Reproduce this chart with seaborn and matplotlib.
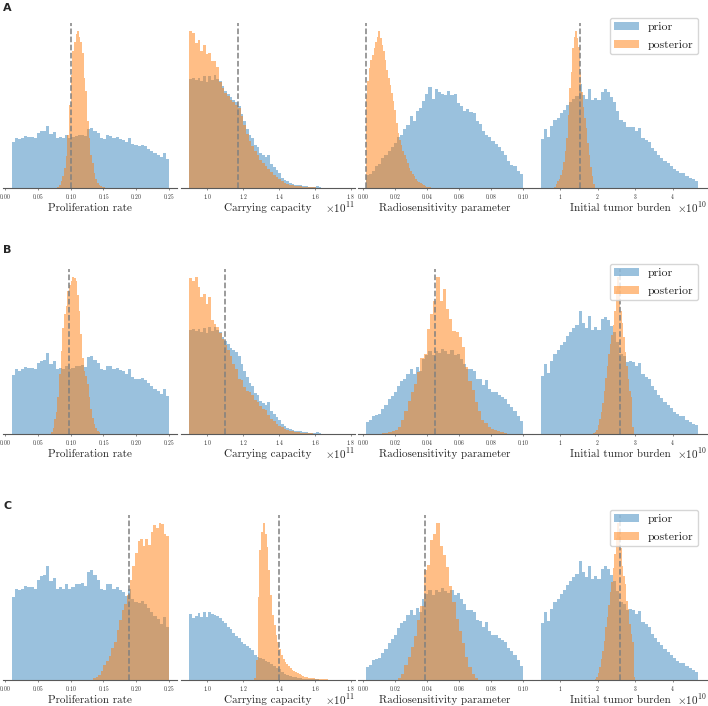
import matplotlib
matplotlib.use("Agg")
import matplotlib.pyplot as plt
import numpy as np
import pandas as pd
import seaborn as sns

# bin heights (arbitrary units, same scale within a panel)
# proliferation rate
PROLIF_PRIOR_RANGE = (0.010, 0.250)
PROLIF_PRIOR = [137, 150, 147, 150, 155, 152, 153, 150, 165, 170,
                172, 187, 162, 168, 150, 152, 150, 158, 150, 153,
                157, 158, 160, 155, 178, 180, 172, 165, 150, 148,
                158, 157, 150, 152, 148, 145, 138, 150, 133, 128,
                127, 130, 125, 118, 112, 105, 100, 92, 104, 87]
PROLIF_POST_A_RANGE = (0.080, 0.155)
PROLIF_POST_A = [3, 10, 20, 35, 60, 95, 160, 250, 340, 410,
                 440, 462, 472, 455, 440, 405, 330, 290, 200, 150,
                 100, 75, 45, 28, 15, 9, 5, 3, 2, 1]
PROLIF_POST_B_RANGE = (0.070, 0.145)
PROLIF_POST_B = [4, 15, 35, 50, 85, 138, 192, 246, 277, 296,
                 331, 346, 354, 364, 362, 355, 323, 285, 231, 177,
                 146, 135, 115, 85, 58, 37, 23, 14, 8, 4]
PROLIF_POST_C_RANGE = (0.134, 0.250)
PROLIF_POST_C = [3, 5, 8, 15, 24, 32, 40, 52, 63, 82,
                 98, 115, 125, 140, 165, 187, 208, 228, 232, 220,
                 232, 222, 243, 255, 250, 258, 256, 240, 236]
PROLIF_TRUE = [0.100, 0.097, 0.189]

# carrying capacity
CAP_RANGE = (0.90e11, 1.65e11)
CAP_PRIOR_AB = [327, 330, 325, 330, 322, 335, 318, 337, 325, 338,
                328, 320, 305, 292, 282, 272, 265, 258, 245, 222,
                200, 178, 160, 150, 128, 122, 104, 98, 92, 100,
                72, 64, 54, 45, 30, 24, 20, 16, 13, 10,
                9, 8, 6, 5, 4, 3, 3, 6, 2, 1]
CAP_POST_A = [472, 465, 435, 445, 412, 430, 402, 405, 380, 382,
              362, 318, 300, 285, 275, 265, 258, 250, 240, 215,
              190, 162, 142, 125, 110, 98, 85, 75, 65, 57,
              48, 40, 33, 26, 20, 16, 13, 10, 8, 7,
              6, 5, 4, 3, 3, 2, 2, 1, 1, 1]
CAP_POST_B = [491, 481, 495, 463, 432, 442, 410, 432, 358, 348,
              337, 318, 298, 280, 264, 247, 220, 206, 174, 169,
              147, 136, 132, 122, 106, 101, 89, 80, 75, 59,
              47, 40, 32, 26, 21, 17, 14, 11, 9, 7,
              5, 4, 3, 3, 2, 2, 1, 1, 1, 0]
CAP_PRIOR_C = [197, 187, 192, 202, 190, 205, 189, 204, 197, 196,
               192, 185, 178, 170, 160, 152, 142, 132, 125, 115,
               109, 102, 97, 90, 75, 70, 66, 62, 57, 55,
               47, 42, 36, 32, 24, 19, 15, 12, 10, 8,
               7, 5, 4, 4, 3, 3, 2, 2, 1, 1]
CAP_POST_C_RANGE = (1.26e11, 1.70e11)
CAP_POST_C = [5, 60, 250, 390, 445, 472, 440, 400, 330, 255,
              195, 165, 135, 115, 92, 75, 63, 55, 48, 42,
              36, 31, 27, 24, 20, 17, 14, 12, 10, 8,
              7, 6, 5, 5, 4, 3, 3, 3, 2, 2,
              2, 1, 1, 1]
CAP_TRUE = [1.172e11, 1.100e11, 1.398e11]

# radiosensitivity
RADIO_RANGE = (0.0017, 0.100)
RADIO_PRIOR_A = [40, 42, 52, 67, 72, 90, 100, 112, 122, 135,
                 152, 158, 178, 190, 215, 202, 232, 240, 262, 282,
                 302, 268, 296, 288, 282, 278, 292, 280, 282, 254,
                 245, 232, 237, 227, 224, 200, 192, 170, 160, 152,
                 142, 132, 124, 112, 98, 82, 70, 66, 52, 42]
RADIO_POST_A_RANGE = (0.0017, 0.0437)
RADIO_POST_A = [280, 320, 360, 385, 400, 420, 440, 455, 472, 450,
                430, 410, 385, 355, 330, 310, 285, 262, 235, 195,
                165, 145, 128, 112, 98, 88, 75, 60, 50, 42,
                35, 28, 22, 18, 14, 11, 9, 6, 4, 3,
                2, 1]
RADIO_PRIOR_BC = [36, 41, 55, 58, 60, 75, 86, 104, 114, 125,
                  145, 158, 165, 180, 196, 181, 200, 188, 225, 238,
                  250, 236, 250, 244, 256, 248, 241, 251, 236, 241,
                  226, 211, 196, 196, 190, 166, 165, 148, 162, 136,
                  126, 125, 116, 111, 106, 90, 80, 70, 55, 40]
RADIO_POST_B_RANGE = (0.012, 0.090)
RADIO_POST_B = [2, 3, 5, 8, 12, 20, 42, 70, 100, 125,
                150, 185, 228, 241, 316, 360, 400, 471, 400, 435,
                376, 346, 310, 306, 290, 260, 200, 160, 131, 96,
                68, 42, 32, 22, 16, 12, 8, 5, 3]
RADIO_POST_C_RANGE = (0.022, 0.072)
RADIO_POST_C = [6, 18, 42, 65, 93, 122, 167, 206, 305, 321,
                389, 405, 437, 374, 349, 315, 261, 218, 171, 136,
                102, 65, 37, 16, 6]
RADIO_TRUE = [0.0017, 0.0454, 0.0389]

# initial tumor burden
BURDEN_RANGE = (0.48e10, 4.68e10)
BURDEN_PRIOR = [171, 205, 178, 215, 236, 245, 260, 271, 288, 300,
                311, 321, 361, 325, 312, 346, 306, 314, 306, 336,
                344, 335, 318, 300, 270, 236, 230, 211, 214, 211,
                200, 208, 176, 168, 160, 140, 128, 114, 106, 94,
                86, 76, 66, 58, 52, 52, 42, 36, 30, 25]
BURDEN_POST_A_RANGE = (0.84e10, 1.92e10)
BURDEN_POST_A = [3, 14, 23, 31, 46, 64, 90, 128, 174, 255,
                 348, 406, 487, 528, 548, 524, 493, 406, 336, 284,
                 244, 209, 157, 116, 72, 41, 14]
BURDEN_POST_B_RANGE = (1.88e10, 2.96e10)
BURDEN_POST_B = [3, 6, 12, 25, 45, 65, 90, 125, 165, 200,
                 235, 265, 290, 320, 360, 420, 461, 430, 360, 325,
                 285, 240, 200, 160, 125, 110, 20]
BURDEN_POST_C_RANGE = (1.92e10, 3.00e10)
BURDEN_POST_C = [3, 8, 20, 40, 62, 88, 118, 160, 190, 228,
                 265, 295, 340, 380, 430, 475, 440, 400, 345, 315,
                 290, 240, 215, 170, 140, 115, 8]
BURDEN_TRUE = [1.53e10, 2.59e10, 2.59e10]

ROW_LABELS = ["A", "B", "C"]
XLABELS = ["Proliferation rate", "Carrying capacity", "Radiosensitivity parameter", "Initial tumor burden"]
OFFSETS = [None, r"$\times10^{11}$", None, r"$\times10^{10}$"]

sns.set_style("white")
plt.rcParams["font.family"] = "serif"
plt.rcParams["font.serif"] = ["cmr10"]
plt.rcParams["mathtext.fontset"] = "cm"
plt.rcParams["axes.unicode_minus"] = False
plt.rcParams["axes.formatter.use_mathtext"] = True

PRIOR_COLOR = "#1f77b4"
POST_COLOR = "#ff7f0e"


def _hist(ax, heights, value_range, color, alpha, label):
    edges = np.linspace(value_range[0], value_range[1], len(heights) + 1)
    df = pd.DataFrame({"value": (edges[:-1] + edges[1:]) / 2, "height": heights})
    sns.histplot(data=df, x="value", weights="height", bins=len(heights), binrange=value_range,
                 element="step", fill=True, color=color, alpha=alpha, linewidth=0,
                 label=label, ax=ax)


panels = [
    [(PROLIF_PRIOR, PROLIF_PRIOR_RANGE, PROLIF_POST_A, PROLIF_POST_A_RANGE, PROLIF_TRUE[0]),
     (CAP_PRIOR_AB, CAP_RANGE, CAP_POST_A, CAP_RANGE, CAP_TRUE[0]),
     (RADIO_PRIOR_A, RADIO_RANGE, RADIO_POST_A, RADIO_POST_A_RANGE, RADIO_TRUE[0]),
     (BURDEN_PRIOR, BURDEN_RANGE, BURDEN_POST_A, BURDEN_POST_A_RANGE, BURDEN_TRUE[0])],
    [(PROLIF_PRIOR, PROLIF_PRIOR_RANGE, PROLIF_POST_B, PROLIF_POST_B_RANGE, PROLIF_TRUE[1]),
     (CAP_PRIOR_AB, CAP_RANGE, CAP_POST_B, CAP_RANGE, CAP_TRUE[1]),
     (RADIO_PRIOR_BC, RADIO_RANGE, RADIO_POST_B, RADIO_POST_B_RANGE, RADIO_TRUE[1]),
     (BURDEN_PRIOR, BURDEN_RANGE, BURDEN_POST_B, BURDEN_POST_B_RANGE, BURDEN_TRUE[1])],
    [(PROLIF_PRIOR, PROLIF_PRIOR_RANGE, PROLIF_POST_C, PROLIF_POST_C_RANGE, PROLIF_TRUE[2]),
     (CAP_PRIOR_C, CAP_RANGE, CAP_POST_C, CAP_POST_C_RANGE, CAP_TRUE[2]),
     (RADIO_PRIOR_BC, RADIO_RANGE, RADIO_POST_C, RADIO_POST_C_RANGE, RADIO_TRUE[2]),
     (BURDEN_PRIOR, BURDEN_RANGE, BURDEN_POST_C, BURDEN_POST_C_RANGE, BURDEN_TRUE[2])],
]

xlims = [(-0.003, 0.262), (0.853e11, 1.823e11), (-0.003, 0.1057), (0.27e10, 4.92e10)]
xticks = [[0.0, 0.05, 0.10, 0.15, 0.20, 0.25],
          [1.0e11, 1.2e11, 1.4e11, 1.6e11, 1.8e11],
          [0.0, 0.02, 0.04, 0.06, 0.08, 0.10],
          [1e10, 2e10, 3e10, 4e10]]

W, H = 708, 706
col_left = [3, 181, 358, 533]
row_bottom = [188, 434, 680]
letter_top = [3, 245, 501]
ax_w, ax_h = 174, 165

fig = plt.figure(figsize=(W / 100, H / 100), dpi=100)
for r, row in enumerate(panels):
    fig.text(3 / W, 1 - letter_top[r] / H, ROW_LABELS[r], ha="left", va="top",
             fontsize=8, fontweight="bold", family="DejaVu Sans")
    for c, (prior, prior_rng, post, post_rng, true_val) in enumerate(row):
        ax = fig.add_axes([col_left[c] / W, 1 - row_bottom[r] / H, ax_w / W, ax_h / H])
        _hist(ax, prior, prior_rng, PRIOR_COLOR, 0.45, "prior")
        _hist(ax, post, post_rng, POST_COLOR, 0.5, "posterior")
        ax.axvline(true_val, color="grey", linestyle="--", linewidth=1.1)
        ax.set_xlim(*xlims[c])
        ax.set_xticks(xticks[c])
        ax.set_yticks([])
        ax.set_ylabel("")
        ax.set_xlabel(XLABELS[c], fontsize=8, labelpad=1.5)
        ax.tick_params(axis="x", labelsize=4, pad=1.5, bottom=True, length=1.5, width=0.5,
                       color="0.35")
        sns.despine(ax=ax, left=True)
        ax.spines["bottom"].set_color("0.35")
        ax.spines["bottom"].set_linewidth(0.8)
        if OFFSETS[c] is not None:
            ax.xaxis.get_offset_text().set_visible(False)
            ax.text(1.0, -0.074, OFFSETS[c], transform=ax.transAxes, ha="right", va="top", fontsize=8)
        if c == 3:
            ax.legend(loc="upper right", bbox_to_anchor=(0.948, 1.03), borderaxespad=0,
                      fontsize=8.5, handlelength=2.1, handleheight=0.7, labelspacing=0.6,
                      borderpad=0.35)

fig.savefig("out.png", dpi=100)
plt.close(fig)
